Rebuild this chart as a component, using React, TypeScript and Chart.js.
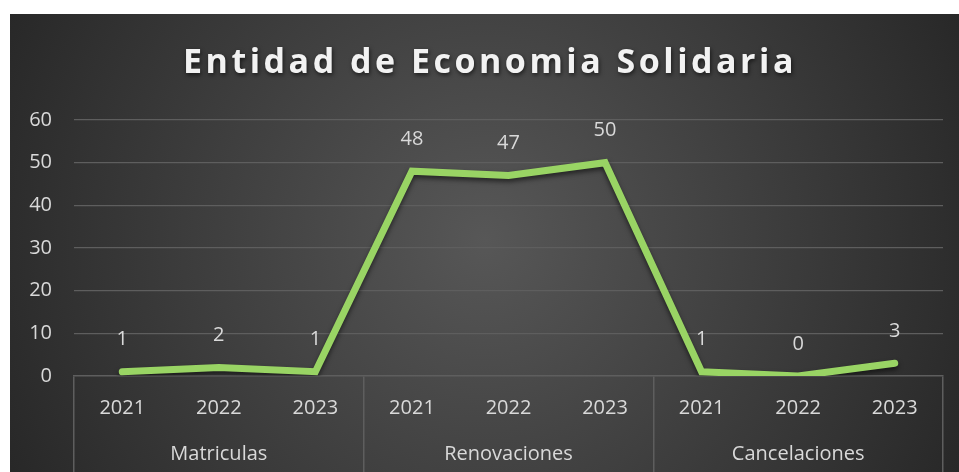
import React, { useEffect, useRef } from "react";
import { Chart, registerables } from "chart.js";

Chart.register(...registerables);

const title = "Entidad de Economia Solidaria";
const groups = ["Matriculas", "Renovaciones", "Cancelaciones"];
const years = ["2021", "2022", "2023"];
const values = [1, 2, 1, 48, 47, 50, 1, 0, 3];
const yTicks = [0, 10, 20, 30, 40, 50, 60];

const W = 959;
const H = 472;
const FONT = "'Open Sans', 'DejaVu Sans', sans-serif";
const TEXT = "#D9D9D9";
const LINE = "#99D464";
const GRID = "#5E5E5E";

const labels = groups.flatMap(() => years);

const bgPlugin = {
  id: "bg",
  beforeDraw(chart: any) {
    const ctx = chart.ctx;
    ctx.save();
    ctx.fillStyle = "#ffffff";
    ctx.fillRect(0, 0, W, H);
    const x0 = 10, y0 = 14;
    const g = ctx.createRadialGradient(485, 240, 0, 485, 240, 560);
    g.addColorStop(0, "#575757");
    g.addColorStop(1, "#252525");
    ctx.fillStyle = g;
    ctx.fillRect(x0, y0, W - x0, H - y0);
    ctx.restore();
  },
  afterDraw(chart: any) {
    const ctx = chart.ctx;
    ctx.save();
    ctx.font = `bold 34px ${FONT}`;
    (ctx as any).letterSpacing = "3.5px";
    ctx.fillStyle = "#F2F2F2";
    ctx.textAlign = "center";
    ctx.textBaseline = "middle";
    ctx.shadowColor = "rgba(0,0,0,0.6)";
    ctx.shadowBlur = 4;
    ctx.shadowOffsetX = 1;
    ctx.shadowOffsetY = 2;
    ctx.fillText(title, 490, 63);
    ctx.restore();
  },
};

const shadowPlugin = {
  id: "lineShadow",
  beforeDatasetDraw(chart: any) {
    const ctx = chart.ctx;
    ctx.save();
    ctx.shadowColor = "rgba(0,0,0,0.55)";
    ctx.shadowBlur = 5;
    ctx.shadowOffsetX = 0;
    ctx.shadowOffsetY = 3;
  },
  afterDatasetDraw(chart: any) {
    chart.ctx.restore();
  },
};

const valueLabels = {
  id: "valueLabels",
  afterDatasetsDraw(chart: any) {
    const ctx = chart.ctx;
    const meta = chart.getDatasetMeta(0);
    const data = chart.data.datasets[0].data;
    ctx.save();
    ctx.font = `20px ${FONT}`;
    ctx.fillStyle = TEXT;
    ctx.textAlign = "center";
    ctx.textBaseline = "middle";
    meta.data.forEach((pt: any, i: number) => {
      ctx.fillText(String(data[i]), pt.x, pt.y - 32);
    });
    ctx.restore();
  },
};

export default function App() {
  const ref = useRef<HTMLCanvasElement | null>(null);

  useEffect(() => {
    if (!ref.current) return;
    const chart = new Chart(ref.current, {
      type: "line",
      data: {
        labels,
        datasets: [
          {
            data: values,
            borderColor: LINE,
            borderWidth: 7,
            borderCapStyle: "round",
            borderJoinStyle: "miter",
            pointRadius: 0,
            pointHoverRadius: 0,
            tension: 0,
            fill: false,
          },
        ],
      },
      options: {
        responsive: false,
        animation: false,
        devicePixelRatio: 1,
        layout: { padding: { left: 10, right: 16, top: 120, bottom: 0 } },
        plugins: {
          legend: { display: false },
          title: { display: false },
          tooltip: { enabled: false },
        },
        scales: {
          x: {
            type: "category",
            position: "bottom",
            weight: 0,
            offset: true,
            grid: {
              offset: true,
              drawOnChartArea: false,
              drawTicks: true,
              tickLength: 48,
              lineWidth: 1.5,
              color: (c: any) =>
                c.type !== "tick" || c.index % 3 === 0 ? GRID : "rgba(0,0,0,0)",
            },
            border: { display: true, color: GRID, width: 1.5 },
            ticks: {
              color: TEXT,
              font: { family: FONT, size: 20 },
              padding: -28,
              maxRotation: 0,
              autoSkip: false,
            },
            afterFit: (s: any) => {
              s.height = 48;
            },
          },
          group: {
            type: "category",
            position: "bottom",
            weight: 1,
            labels: groups,
            offset: true,
            grid: {
              offset: true,
              drawOnChartArea: false,
              drawTicks: true,
              tickLength: 48,
              lineWidth: 1.5,
              color: GRID,
            },
            border: { display: false },
            ticks: {
              color: TEXT,
              font: { family: FONT, size: 20 },
              padding: -30,
              maxRotation: 0,
              autoSkip: false,
            },
            afterFit: (s: any) => {
              s.height = 48;
            },
          },
          y: {
            min: 0,
            max: 60,
            afterBuildTicks: (s: any) => {
              s.ticks = yTicks.map((v) => ({ value: v }));
            },
            grid: {
              drawTicks: false,
              color: (c: any) => (c.tick && c.tick.value === 0 ? "rgba(0,0,0,0)" : GRID),
              lineWidth: 1.2,
            },
            border: { display: false },
            ticks: {
              color: TEXT,
              font: { family: FONT, size: 20 },
              padding: 22,
            },
            afterFit: (s: any) => {
              s.width = 64;
            },
          },
        },
      },
      plugins: [bgPlugin, shadowPlugin, valueLabels],
    } as any);
    return () => chart.destroy();
  }, []);

  return (
    <div style={{ position: "absolute", left: 0, top: 0, width: W, height: H }}>
      <canvas ref={ref} width={W} height={H} style={{ display: "block", width: W, height: H }} />
    </div>
  );
}
